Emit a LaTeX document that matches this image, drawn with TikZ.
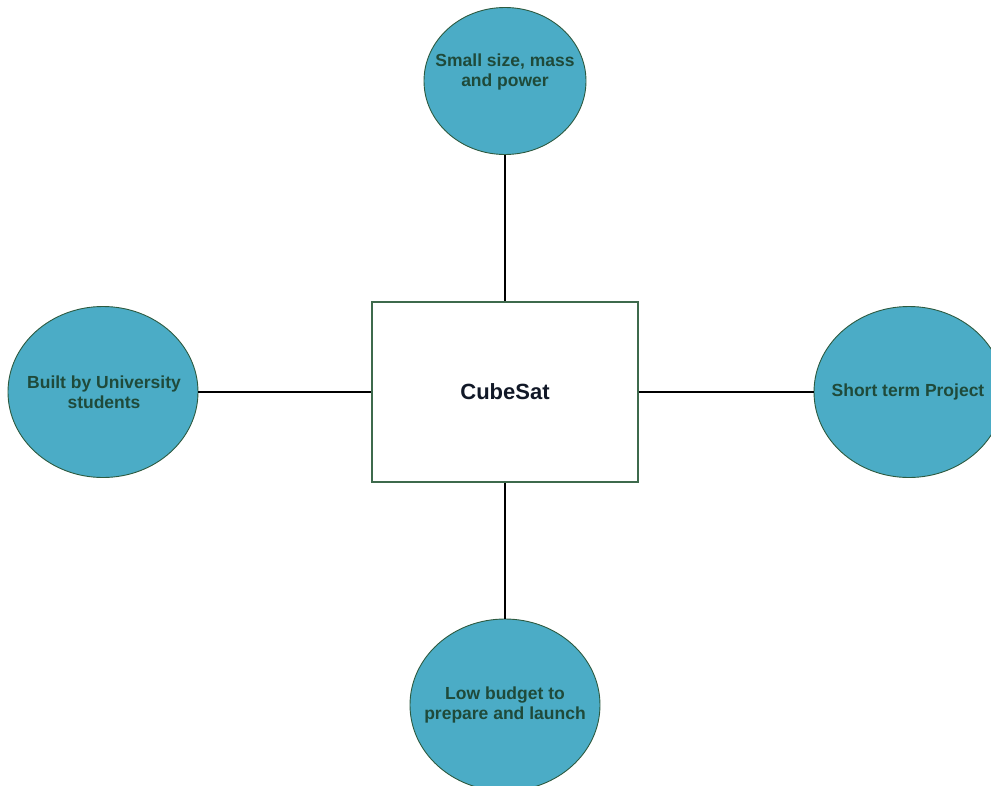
\documentclass[tikz,border=0pt]{standalone}
\usepackage{fontspec}
\setmainfont{Liberation Sans}
\usetikzlibrary{shapes.geometric}
\definecolor{bubble}{HTML}{4BACC6}
\definecolor{bubbleline}{HTML}{2D5A40}
\definecolor{bubbletext}{HTML}{1F4A3A}
\definecolor{boxline}{HTML}{3E6A4C}
\definecolor{hubtext}{HTML}{111827}
\tikzset{
  px/.style={x=1pt,y=-1pt},
  bubblenode/.style={ellipse, draw=bubbleline, line width=0.9pt, fill=bubble,
    inner sep=0pt},
  bubbletxt/.style={align=center, text=bubbletext, inner sep=0pt,
    font=\bfseries\fontsize{17.5}{20}\selectfont},
  hubbox/.style={rectangle, draw=boxline, line width=1.3pt, fill=white,
    minimum width=266pt, minimum height=180pt, text=hubtext,
    font=\bfseries\fontsize{22}{24}\selectfont},
  link/.style={draw=black, line width=1.3pt}
}
\begin{document}
\begin{tikzpicture}[px]
\useasboundingbox (0,0) rectangle (991,785);
\clip (0,0) rectangle (991,785);
\node[hubbox] (hub) at (505,392) {CubeSat};
% four bubbles around the central box
\node[bubblenode, minimum width=162pt, minimum height=147pt] (top) at (505,81) {};
\node[bubblenode, minimum width=190pt, minimum height=171pt] (left) at (103,392) {};
\node[bubblenode, minimum width=190pt, minimum height=171pt] (right) at (909,392) {};
\node[bubblenode, minimum width=190pt, minimum height=172pt] (bottom) at (505,705) {};
\node[bubbletxt] (toptxt) at (505,72) {Small size, mass\\and power};
\node[bubbletxt] (lefttxt) at (104,392) {Built by University\\students};
\node[bubbletxt] (righttxt) at (908,392) {Short term Project};
\node[bubbletxt] (bottomtxt) at (505,705) {Low budget to\\prepare and launch};
\draw[link] (top.south) -- (hub.north);
\draw[link] (left.east) -- (hub.west);
\draw[link] (hub.east) -- (right.west);
\draw[link] (hub.south) -- (bottom.north);
\end{tikzpicture}
\end{document}
